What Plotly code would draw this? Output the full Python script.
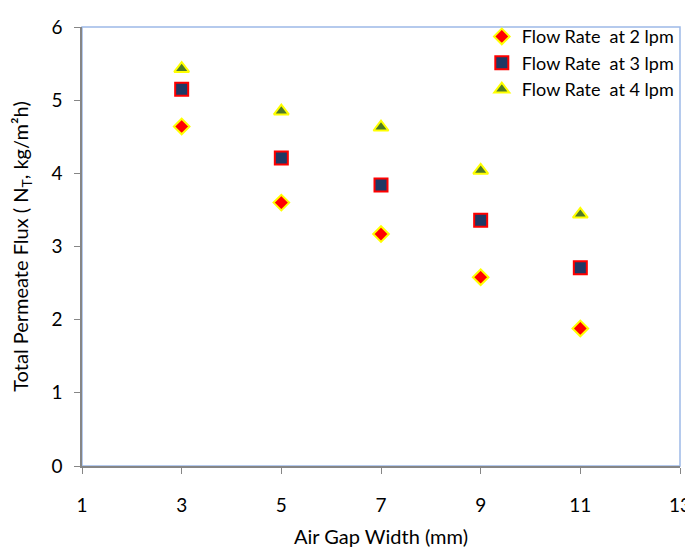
import plotly.graph_objects as go

air_gap = [3, 5, 7, 9, 11]
flux_2lpm = [4.64, 3.60, 3.17, 2.58, 1.88]
flux_3lpm = [5.15, 4.21, 3.84, 3.36, 2.71]
flux_4lpm = [5.43, 4.85, 4.63, 4.04, 3.44]
series_names = ["Flow Rate  at 2 lpm", "Flow Rate  at 3 lpm", "Flow Rate  at 4 lpm"]
x_ticks = [1, 3, 5, 7, 9, 11, 13]
y_ticks = [0, 1, 2, 3, 4, 5, 6]

FONT = "Lato, 'Open Sans', sans-serif"

fig = go.Figure()
fig.add_trace(go.Scatter(
    x=air_gap, y=flux_2lpm, mode="markers", name=series_names[0],
    marker=dict(symbol="diamond", size=12, color="#FF0000",
                line=dict(color="#FFFF00", width=2))))
fig.add_trace(go.Scatter(
    x=air_gap, y=flux_3lpm, mode="markers", name=series_names[1],
    marker=dict(symbol="square", size=13, color="#1F3864",
                line=dict(color="#FF0000", width=2))))
fig.add_trace(go.Scatter(
    x=air_gap, y=flux_4lpm, mode="markers", name=series_names[2],
    marker=dict(symbol="triangle-up", size=13, color="#4F7A28",
                line=dict(color="#FFFF00", width=2))))

# light-blue plot border (top & right)
fig.add_shape(type="rect", xref="paper", yref="paper", x0=0, y0=0, x1=1, y1=1,
              line=dict(color="#9DB9E8", width=1.5), layer="below")

# page body has an 8px margin, so the figure is sized to fit the remaining window
fig.update_layout(
    width=685, height=542,
    margin=dict(l=74, r=13, t=10, b=84),
    paper_bgcolor="white", plot_bgcolor="white",
    font=dict(family=FONT, size=19, color="#000000"),
    showlegend=True,
    legend=dict(x=0.998, y=1.02, xanchor="right", yanchor="top",
                bgcolor="rgba(255,255,255,0)", font=dict(size=18, family=FONT),
                itemsizing="trace", tracegroupgap=0, itemwidth=30),
    xaxis=dict(range=[1, 13], tickvals=x_ticks, showgrid=False, zeroline=False,
               showline=True, linecolor="#868686", linewidth=1.5,
               ticks="outside", ticklen=6, tickcolor="#868686",
               ticklabelstandoff=15, automargin=False,
               title=dict(text="Air Gap Width (mm)", font=dict(size=20, family=FONT), standoff=15)),
    yaxis=dict(range=[0, 6], tickvals=y_ticks, showgrid=False, zeroline=False,
               showline=True, linecolor="#868686", linewidth=1.5,
               ticks="outside", ticklen=6, tickcolor="#868686",
               ticklabelstandoff=8, automargin=False,
               title=dict(text="Total Permeate Flux ( N<sub>T</sub>, kg/m²h)",
                          font=dict(size=20, family=FONT), standoff=18)),
)

fig.write_html("out.html")
